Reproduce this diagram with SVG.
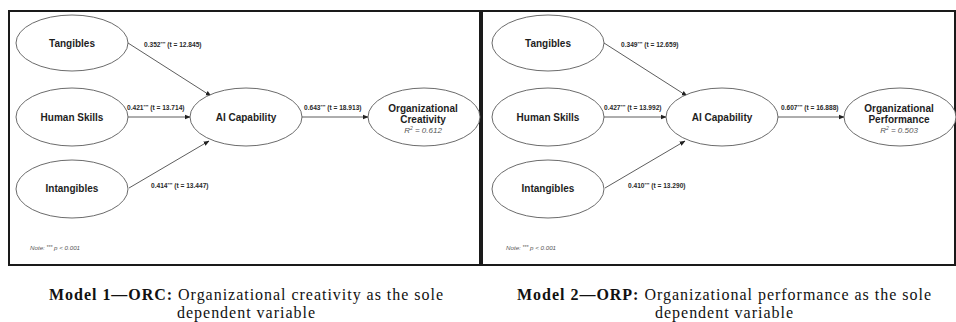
<svg xmlns="http://www.w3.org/2000/svg" width="956" height="322" viewBox="0 0 956 322">
  <defs>
    <style>
      .frame { fill: none; stroke: #1a1a1a; stroke-width: 2; }
      .node { fill: #ffffff; stroke: #5a5a5a; stroke-width: 0.9; }
      .lbl { font-family: "Liberation Sans", Arial, sans-serif; font-weight: bold; font-size: 10px; fill: #1e1e1e; text-anchor: middle; }
      .r2 { font-family: "Liberation Sans", Arial, sans-serif; font-style: italic; font-size: 8px; fill: #555; text-anchor: middle; }
      .coef { font-family: "Liberation Sans", Arial, sans-serif; font-weight: bold; font-size: 6.6px; fill: #2a2a2a; }
      .note { font-family: "Liberation Sans", Arial, sans-serif; font-style: italic; font-size: 6.2px; fill: #555; }
      .edge { stroke: #333; stroke-width: 0.8; fill: none; marker-end: url(#tip); }
      .cap { font-family: "Liberation Serif", "Times New Roman", serif; font-size: 16px; fill: #111; text-anchor: middle; }
      .capb { font-weight: bold; }
    </style>
    <marker id="tip" viewBox="0 0 10 10" refX="9" refY="5" markerWidth="6" markerHeight="6" markerUnits="userSpaceOnUse" orient="auto">
      <path d="M0,1 L10,5 L0,9 z" fill="#222"/>
    </marker>
  </defs>

  <rect width="956" height="322" fill="#ffffff"/>

  <!-- panel frames -->
  <rect class="frame" x="9" y="11" width="471" height="254"/>
  <rect class="frame" x="482" y="11" width="473" height="254"/>

  <!-- ===== Model 1 ===== -->
  <g id="m1-connectors">
    <line class="edge" x1="128" y1="43" x2="211" y2="96"/>
    <line class="edge" x1="128" y1="117" x2="190" y2="117"/>
    <line class="edge" x1="129" y1="188" x2="209" y2="141"/>
    <line class="edge" x1="302" y1="117" x2="368" y2="117"/>
    <text class="coef" x="144" y="47">0.352<tspan dy="-2" font-size="4.2">***</tspan><tspan dy="2"> (t = 12.845)</tspan></text>
    <text class="coef" x="127" y="110">0.421<tspan dy="-2" font-size="4.2">***</tspan><tspan dy="2"> (t = 13.714)</tspan></text>
    <text class="coef" x="151" y="188">0.414<tspan dy="-2" font-size="4.2">***</tspan><tspan dy="2"> (t = 13.447)</tspan></text>
    <text class="coef" x="304" y="110">0.643<tspan dy="-2" font-size="4.2">***</tspan><tspan dy="2"> (t = 18.913)</tspan></text>
  </g>
  <g id="m1-tangibles">
    <ellipse class="node" cx="72" cy="43" rx="56" ry="28"/>
    <text class="lbl" x="72" y="46.5">Tangibles</text>
  </g>
  <g id="m1-human-skills">
    <ellipse class="node" cx="72" cy="117" rx="56" ry="29"/>
    <text class="lbl" x="72" y="120.5">Human Skills</text>
  </g>
  <g id="m1-intangibles">
    <ellipse class="node" cx="72" cy="189" rx="56" ry="29"/>
    <text class="lbl" x="72" y="192">Intangibles</text>
  </g>
  <g id="m1-ai-capability">
    <ellipse class="node" cx="246" cy="117" rx="56" ry="29"/>
    <text class="lbl" x="246" y="120.5">AI Capability</text>
  </g>
  <g id="m1-org-creativity">
    <ellipse class="node" cx="424" cy="117" rx="56" ry="29"/>
    <text class="lbl" x="423" y="111.5">Organizational</text>
    <text class="lbl" x="423" y="123">Creativity</text>
    <text class="r2" x="423" y="132.5">R<tspan dy="-3" font-size="5">2</tspan><tspan dy="3"> = 0.612</tspan></text>
  </g>
  <text class="note" x="30" y="250">Note: <tspan dy="-1.5" font-size="5">***</tspan><tspan dy="1.5"> p &lt; 0.001</tspan></text>

  <!-- ===== Model 2 ===== -->
  <g id="m2-connectors">
    <line class="edge" x1="604" y1="43" x2="687" y2="96"/>
    <line class="edge" x1="604" y1="117" x2="666" y2="117"/>
    <line class="edge" x1="605" y1="188" x2="685" y2="141"/>
    <line class="edge" x1="778" y1="117" x2="844" y2="117"/>
    <text class="coef" x="621" y="47">0.349<tspan dy="-2" font-size="4.2">***</tspan><tspan dy="2"> (t = 12.659)</tspan></text>
    <text class="coef" x="604" y="110">0.427<tspan dy="-2" font-size="4.2">***</tspan><tspan dy="2"> (t = 13.992)</tspan></text>
    <text class="coef" x="628" y="188">0.410<tspan dy="-2" font-size="4.2">***</tspan><tspan dy="2"> (t = 13.290)</tspan></text>
    <text class="coef" x="781" y="110">0.607<tspan dy="-2" font-size="4.2">***</tspan><tspan dy="2"> (t = 16.888)</tspan></text>
  </g>
  <g id="m2-tangibles">
    <ellipse class="node" cx="548" cy="43" rx="56" ry="28"/>
    <text class="lbl" x="548" y="46.5">Tangibles</text>
  </g>
  <g id="m2-human-skills">
    <ellipse class="node" cx="548" cy="117" rx="56" ry="29"/>
    <text class="lbl" x="548" y="120.5">Human Skills</text>
  </g>
  <g id="m2-intangibles">
    <ellipse class="node" cx="548" cy="189" rx="56" ry="29"/>
    <text class="lbl" x="548" y="192">Intangibles</text>
  </g>
  <g id="m2-ai-capability">
    <ellipse class="node" cx="722" cy="117" rx="56" ry="29"/>
    <text class="lbl" x="722" y="120.5">AI Capability</text>
  </g>
  <g id="m2-org-performance">
    <ellipse class="node" cx="900" cy="117" rx="56" ry="29"/>
    <text class="lbl" x="899" y="111.5">Organizational</text>
    <text class="lbl" x="899" y="123">Performance</text>
    <text class="r2" x="899" y="132.5">R<tspan dy="-3" font-size="5">2</tspan><tspan dy="3"> = 0.503</tspan></text>
  </g>
  <text class="note" x="506" y="250">Note: <tspan dy="-1.5" font-size="5">***</tspan><tspan dy="1.5"> p &lt; 0.001</tspan></text>

  <!-- captions -->
  <text class="cap" x="246" y="300" textLength="394" lengthAdjust="spacing"><tspan class="capb">Model 1—ORC:</tspan> Organizational creativity as the sole</text>
  <text class="cap" x="246" y="318" textLength="138" lengthAdjust="spacing">dependent variable</text>
  <text class="cap" x="724" y="300" textLength="414" lengthAdjust="spacing"><tspan class="capb">Model 2—ORP:</tspan> Organizational performance as the sole</text>
  <text class="cap" x="724" y="318" textLength="138" lengthAdjust="spacing">dependent variable</text>
</svg>
